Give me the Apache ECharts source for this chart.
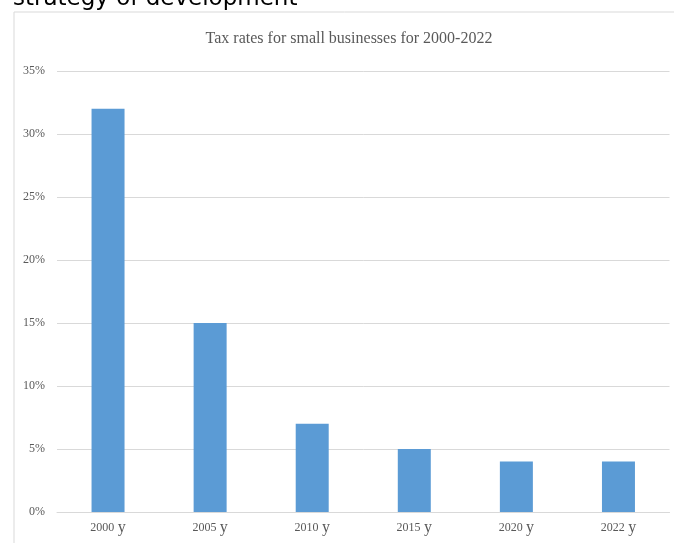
<!DOCTYPE html>
<html>
<head>
<meta charset="utf-8">
<script src="https://cdn.jsdelivr.net/npm/echarts@6/dist/echarts.min.js"></script>
<style>
html,body{margin:0;padding:0;background:#fff;}
#chart{width:674px;height:543px;}
</style>
</head>
<body>
<div id="chart"></div>
<script>
const categories = ['2000', '2005', '2010', '2015', '2020', '2022'];
const taxRates = [32, 15, 7, 5, 4, 4];
const yTicks = { min: 0, max: 35, interval: 5 };
const chartTitle = 'Tax rates for small businesses for 2000-2022';
const headingText = 'strategy of development';

const chart = echarts.init(document.getElementById('chart'), null, { renderer: 'canvas' });
chart.setOption({
  backgroundColor: '#ffffff',
  animation: false,
  graphic: [
    { type: 'text', left: 13, top: -12, z: 1,
      style: { text: headingText, font: '23px "DejaVu Sans"', fill: '#000000' } },
    { type: 'rect', shape: { x: 14, y: 12, width: 700, height: 600 }, z: 2,
      style: { fill: '#ffffff', stroke: '#d9d9d9', lineWidth: 1 } },
    { type: 'text', x: 349, y: 39, z: 3,
      style: { text: chartTitle, font: '16px "Liberation Serif"', fill: '#595959',
               textAlign: 'center', textVerticalAlign: 'middle' } }
  ],
  grid: { left: 57, right: 4.5, top: 71, bottom: 31, containLabel: false, z: 5 },
  xAxis: {
    type: 'category',
    data: categories,
    z: 5,
    axisLine: { show: true, lineStyle: { color: '#d9d9d9', width: 1 } },
    axisTick: { show: false },
    axisLabel: {
      margin: 8,
      color: '#595959',
      formatter: v => '{n|' + v + '} {y|y}',
      rich: {
        n: { fontFamily: 'Liberation Serif', fontSize: 12, color: '#595959' },
        y: { fontFamily: 'Liberation Serif', fontSize: 16, color: '#595959' }
      }
    }
  },
  yAxis: {
    type: 'value',
    min: yTicks.min, max: yTicks.max, interval: yTicks.interval,
    z: 5,
    axisLine: { show: false },
    axisTick: { show: false },
    splitLine: { lineStyle: { color: '#d9d9d9', width: 1 } },
    axisLabel: {
      margin: 12,
      formatter: '{value}%',
      fontFamily: 'Liberation Serif', fontSize: 12, color: '#595959'
    }
  },
  series: [{
    type: 'bar',
    data: taxRates,
    barWidth: 33,
    z: 6,
    itemStyle: { color: '#5B9BD5' }
  }]
});
</script>
</body>
</html>
